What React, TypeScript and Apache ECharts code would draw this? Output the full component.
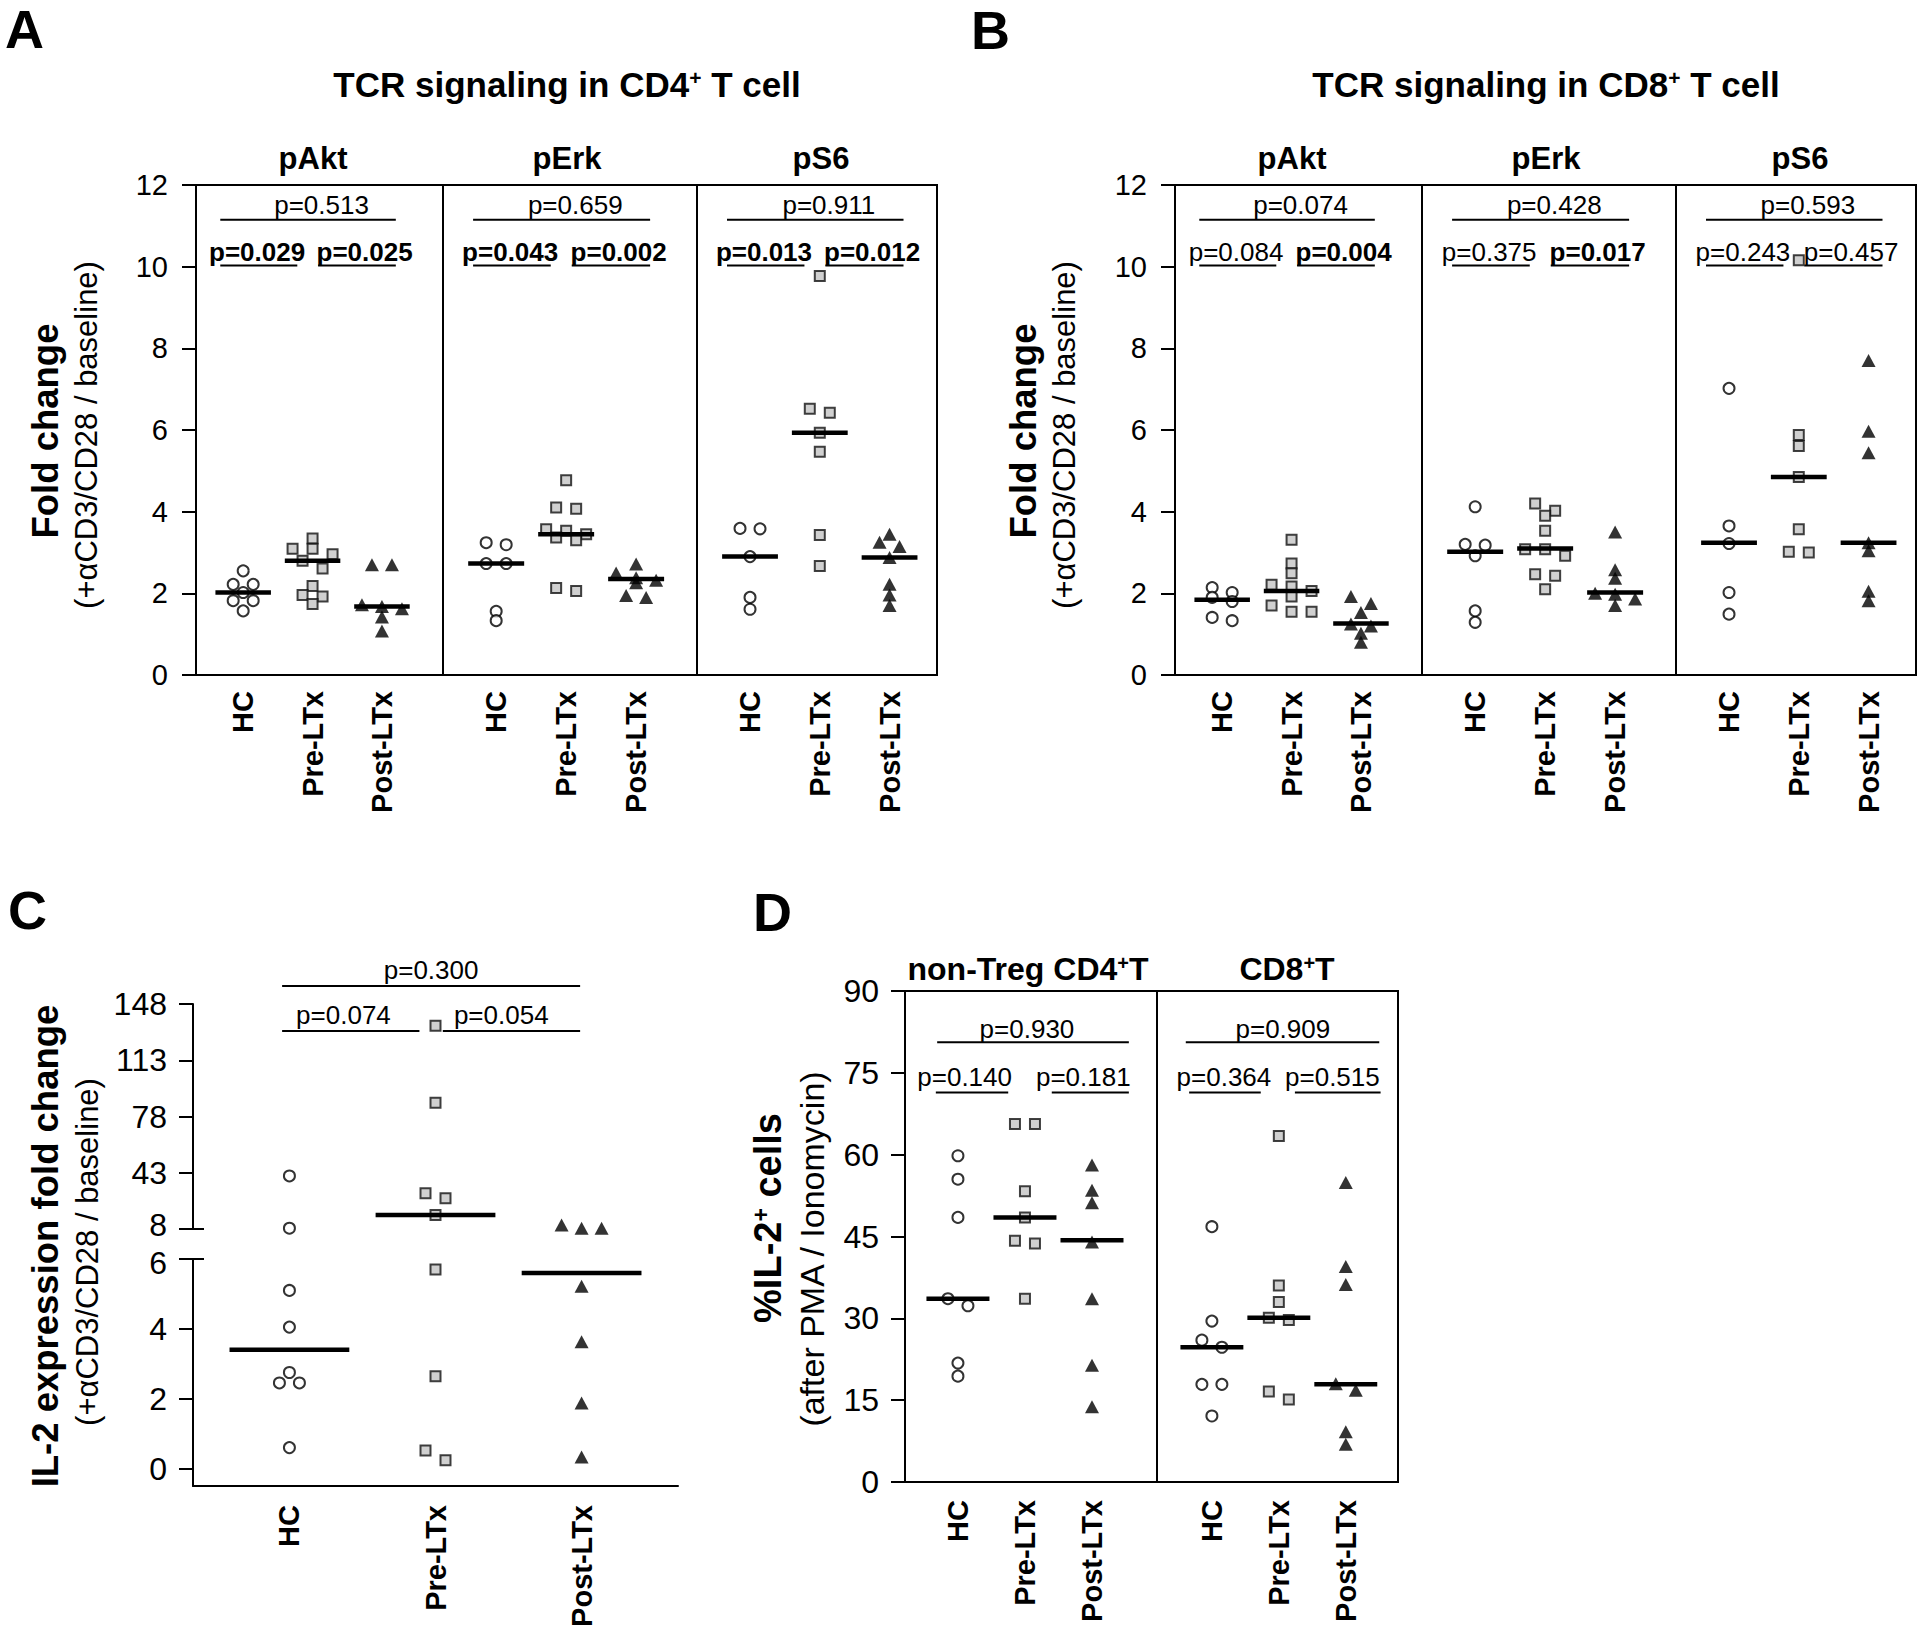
import React, { useEffect, useRef } from 'react';
import * as echarts from 'echarts';

const FONT = '"Liberation Sans", Arial, Helvetica, sans-serif';
const GROUPS = ['HC', 'Pre-LTx', 'Post-LTx'];

// ---------- Panel A: TCR signaling in CD4+ T cell (fold change) ----------
const cd4AktHC = [2.55, 2.22, 2.22, 2.02, 1.82, 1.82, 1.57];
const cd4AktPre = [3.34, 3.09, 3.09, 2.96, 2.8, 2.61, 2.18, 1.96, 1.92, 1.74];
const cd4AktPost = [2.7, 2.7, 1.72, 1.68, 1.62, 1.42, 1.08];
const cd4AktMed = [2.02, 2.8, 1.68];
const cd4AktP = ['p=0.513', 'p=0.029', 'p=0.025'];
const cd4AktBold = [false, true, true];

const cd4ErkHC = [3.24, 3.19, 2.73, 2.73, 1.56, 1.33];
const cd4ErkPre = [4.77, 4.1, 4.07, 3.57, 3.53, 3.45, 3.37, 3.3, 2.13, 2.06];
const cd4ErkPost = [2.72, 2.5, 2.38, 2.32, 2.26, 1.95, 1.9];
const cd4ErkMed = [2.73, 3.45, 2.35];
const cd4ErkP = ['p=0.659', 'p=0.043', 'p=0.002'];
const cd4ErkBold = [false, true, true];

const cd4S6HC = [3.59, 3.58, 2.9, 1.9, 1.61];
const cd4S6Pre = [9.77, 6.52, 6.42, 5.93, 5.47, 3.43, 2.67];
const cd4S6Post = [3.45, 3.25, 3.15, 2.88, 2.22, 1.96, 1.7];
const cd4S6Med = [2.9, 5.93, 2.88];
const cd4S6P = ['p=0.911', 'p=0.013', 'p=0.012'];
const cd4S6Bold = [false, true, true];

// ---------- Panel B: TCR signaling in CD8+ T cell (fold change) ----------
const cd8AktHC = [2.14, 2.02, 1.9, 1.8, 1.41, 1.33];
const cd8AktPre = [3.31, 2.73, 2.49, 2.21, 2.17, 2.06, 1.92, 1.7, 1.55, 1.55];
const cd8AktPost = [1.92, 1.75, 1.53, 1.25, 1.2, 1.02, 0.8];
const cd8AktMed = [1.84, 2.06, 1.26];
const cd8AktP = ['p=0.074', 'p=0.084', 'p=0.004'];
const cd8AktBold = [false, false, true];

const cd8ErkHC = [4.12, 3.2, 3.18, 2.92, 1.57, 1.29];
const cd8ErkPre = [4.2, 4.02, 3.9, 3.53, 3.08, 3.08, 2.92, 2.47, 2.43, 2.1];
const cd8ErkPost = [3.5, 2.58, 2.37, 2.0, 1.98, 1.86, 1.7];
const cd8ErkMed = [3.02, 3.1, 2.02];
const cd8ErkP = ['p=0.428', 'p=0.375', 'p=0.017'];
const cd8ErkBold = [false, false, true];

const cd8S6HC = [7.02, 3.65, 3.22, 2.02, 1.49];
const cd8S6Pre = [10.16, 5.88, 5.61, 4.85, 3.57, 3.02, 3.0];
const cd8S6Post = [7.7, 5.97, 5.44, 3.24, 3.04, 2.05, 1.82];
const cd8S6Med = [3.24, 4.85, 3.24];
const cd8S6P = ['p=0.593', 'p=0.243', 'p=0.457'];
const cd8S6Bold = [false, false, false];

// ---------- Panel C: IL-2 expression fold change ----------
const il2HC = [41, 8.5, 5.1, 4.05, 2.75, 2.45, 2.45, 0.6];
const il2Pre = [134.5, 86.6, 30.2, 27.1, 16.7, 5.7, 2.64, 0.52, 0.24];
const il2Post = [10.5, 8.5, 8.5, 5.22, 3.63, 1.88, 0.33];
const il2Med = [3.4, 16.7, 5.6];
const il2P = ['p=0.300', 'p=0.074', 'p=0.054'];

// ---------- Panel D: %IL-2+ cells ----------
const cd4IL2HC = [59.8, 55.5, 48.5, 33.6, 32.3, 21.8, 19.4];
const cd4IL2Pre = [65.6, 65.6, 53.3, 48.5, 44.2, 43.7, 33.6];
const cd4IL2Post = [58.1, 53.5, 51.2, 44.0, 33.6, 21.4, 13.8];
const cd4IL2Med = [33.6, 48.5, 44.3];
const cd4IL2P = ['p=0.930', 'p=0.140', 'p=0.181'];

const cd8IL2HC = [46.8, 29.5, 26.0, 24.7, 17.9, 17.9, 12.1];
const cd8IL2Pre = [63.4, 36.0, 33.0, 30.1, 29.7, 16.6, 15.1];
const cd8IL2Post = [54.9, 39.5, 36.2, 18.0, 16.8, 9.2, 6.9];
const cd8IL2Med = [24.7, 30.1, 17.9];
const cd8IL2P = ['p=0.909', 'p=0.364', 'p=0.515'];

// tick labels
const foldTicks = [0, 2, 4, 6, 8, 10, 12];
const il2UpperTicks = [8, 43, 78, 113, 148];
const il2LowerTicks = [0, 2, 4, 6];
const pctTicks = [0, 15, 30, 45, 60, 75, 90];

// ---------- layout (styles / positions) ----------
const AB_TOP = 185;
const AB_H = 490;
const AB_SUBS = [
  { dx: 0, width: 247, xMin: -0.68, xMax: 2.88 },
  { dx: 247, width: 254, xMin: -0.76, xMax: 2.87 },
  { dx: 501, width: 240, xMin: -0.76, xMax: 2.68 },
];
const AB_ANN = [
  { x1: -0.33, x2: 2.2, y: 11.15, tx: 1.13, ty: 11.5 },
  { x1: -0.33, x2: 0.78, y: 10.03, tx: 0.2, ty: 10.35 },
  { x1: 1.08, x2: 2.2, y: 10.03, tx: 1.75, ty: 10.35 },
];
const C_ANN = [
  { x1: -0.05, x2: 1.99, y: 159.2, tx: 0.97, ty: 169.2 },
  { x1: -0.05, x2: 0.89, y: 131.2, tx: 0.37, ty: 141.2 },
  { x1: 1.05, x2: 1.99, y: 131.2, tx: 1.45, ty: 141.2 },
];
const D_ANN = [
  [
    { x1: -0.31, x2: 2.55, y: 80.6, tx: 1.03, ty: 83.1 },
    { x1: -0.33, x2: 0.75, y: 71.4, tx: 0.1, ty: 74.3 },
    { x1: 1.4, x2: 2.55, y: 71.4, tx: 1.87, ty: 74.3 },
  ],
  [
    { x1: -0.39, x2: 2.5, y: 80.6, tx: 1.06, ty: 83.1 },
    { x1: -0.34, x2: 0.73, y: 71.4, tx: 0.18, ty: 74.3 },
    { x1: 1.24, x2: 2.52, y: 71.4, tx: 1.8, ty: 74.3 },
  ],
];
const D_SUBS = [
  { left: 905, width: 252, xMin: -0.79, xMax: 2.97 },
  { left: 1157, width: 241, xMin: -0.82, xMax: 2.78 },
];

const MARKERS: any[] = [
  { symbol: 'circle', size: 11, itemStyle: { color: '#ffffff', borderColor: '#000', borderWidth: 2 } },
  { symbol: 'rect', size: 10, itemStyle: { color: '#c4c4c4', borderColor: '#111', borderWidth: 2 } },
  { symbol: 'triangle', size: [14, 13], itemStyle: { color: '#000' } },
];

function swarm(values: number[], pxY: number, tol: number, step: number): number[] {
  const order = values.map((_, i) => i).sort((a, b) => values[b] - values[a]);
  const out = new Array(values.length).fill(0);
  let row: number[] = [];
  const flush = () => {
    row.forEach((k, j) => {
      out[k] = (j - (row.length - 1) / 2) * step;
    });
    row = [];
  };
  for (const i of order) {
    if (row.length && (values[row[0]] - values[i]) * pxY > tol) flush();
    row.push(i);
  }
  flush();
  return out;
}

function buildOption() {
  const option: any = {
    animation: false,
    backgroundColor: '#ffffff',
    grid: [],
    xAxis: [],
    yAxis: [],
    series: [],
    graphic: [],
  };
  const blackLine = { color: '#000', width: 2 };

  function addGrid(cfg: any) {
    const gi = option.grid.length;
    option.grid.push({
      left: cfg.left,
      top: cfg.top,
      width: cfg.width,
      height: cfg.height,
      show: !!cfg.border,
      borderColor: '#000',
      borderWidth: 2,
      backgroundColor: 'transparent',
    });
    option.xAxis.push({
      type: 'value',
      gridIndex: gi,
      min: cfg.xMin,
      max: cfg.xMax,
      show: cfg.xLabels || cfg.xLine,
      axisLine: { show: !!cfg.xLine, onZero: false, lineStyle: blackLine },
      axisTick: { show: false },
      splitLine: { show: false },
      axisLabel: {
        show: !!cfg.xLabels,
        rotate: 90,
        margin: cfg.xMargin,
        customValues: [0, 1, 2],
        formatter: (v: number) => GROUPS[Math.round(v)] || '',
        fontFamily: FONT,
        fontWeight: 'bold',
        fontSize: cfg.xFont,
        color: '#000',
      },
    });
    const labelRich: any = {
      up: { fontSize: cfg.tickFont, fontFamily: FONT, color: '#000', padding: [0, 0, 8, 0] },
      dn: { fontSize: cfg.tickFont, fontFamily: FONT, color: '#000', padding: [8, 0, 0, 0] },
    };
    option.yAxis.push({
      type: 'value',
      gridIndex: gi,
      min: cfg.yMin,
      max: cfg.yMax,
      show: !!cfg.showY,
      axisLine: { show: !!cfg.showY, onZero: false, lineStyle: blackLine },
      axisTick: { show: true, inside: false, length: 14, customValues: cfg.yTicks, lineStyle: blackLine },
      axisLabel: {
        customValues: cfg.yTicks,
        margin: cfg.yMargin,
        fontFamily: FONT,
        fontSize: cfg.tickFont,
        color: '#000',
        rich: labelRich,
        formatter: (v: number) => {
          if (cfg.shiftUp !== undefined && v === cfg.shiftUp) return `{up|${v}}`;
          if (cfg.shiftDown !== undefined && v === cfg.shiftDown) return `{dn|${v}}`;
          return String(v);
        },
      },
      splitLine: { show: false },
    });
    return gi;
  }

  function addPoints(gi: number, cfg: any, g: number, values: number[], tol: number) {
    if (!values.length) return;
    const pxY = cfg.height / (cfg.yMax - cfg.yMin);
    const pxX = cfg.width / (cfg.xMax - cfg.xMin);
    const offs = swarm(values, pxY, tol, 20);
    const m = MARKERS[g];
    option.series.push({
      type: 'scatter',
      xAxisIndex: gi,
      yAxisIndex: gi,
      silent: true,
      z: 3,
      symbol: m.symbol,
      symbolSize: m.size,
      itemStyle: m.itemStyle,
      data: values.map((v, k) => [g + offs[k] / pxX, v]),
    });
  }

  function addMedians(gi: number, meds: number[][], hw: number) {
    if (!meds.length) return;
    option.series.push({
      type: 'custom',
      xAxisIndex: gi,
      yAxisIndex: gi,
      silent: true,
      clip: false,
      z: 5,
      data: meds,
      renderItem: (_p: any, api: any) => {
        const x = api.value(0);
        const y = api.value(1);
        const a = api.coord([x - hw, y]);
        const b = api.coord([x + hw, y]);
        return {
          type: 'line',
          shape: { x1: a[0], y1: a[1], x2: b[0], y2: b[1] },
          style: { stroke: '#000', lineWidth: 4.5 },
        };
      },
    });
  }

  function addAnnotations(gi: number, anns: any[], size: number) {
    option.series.push({
      type: 'custom',
      xAxisIndex: gi,
      yAxisIndex: gi,
      silent: true,
      clip: false,
      z: 6,
      data: anns.map((a) => [a.tx, a.ty]),
      renderItem: (p: any, api: any) => {
        const a = anns[p.dataIndex];
        const s = api.coord([a.x1, a.y]);
        const e = api.coord([a.x2, a.y]);
        const t = api.coord([a.tx, a.ty]);
        return {
          type: 'group',
          children: [
            {
              type: 'line',
              shape: { x1: s[0], y1: s[1], x2: e[0], y2: e[1] },
              style: { stroke: '#000', lineWidth: 2 },
            },
            {
              type: 'text',
              x: t[0],
              y: t[1],
              style: {
                text: a.label,
                fill: '#000',
                font: `${a.bold ? 'bold ' : ''}${size}px ${FONT}`,
                textAlign: 'center',
                align: 'center',
                textVerticalAlign: 'middle',
                verticalAlign: 'middle',
              },
            },
          ],
        };
      },
    });
  }

  function addBreakCap(gi: number, xMin: number, yv: number) {
    option.series.push({
      type: 'custom',
      xAxisIndex: gi,
      yAxisIndex: gi,
      silent: true,
      clip: false,
      z: 6,
      data: [[xMin, yv]],
      renderItem: (_p: any, api: any) => {
        const c = api.coord([api.value(0), api.value(1)]);
        return {
          type: 'line',
          shape: { x1: c[0] - 14, y1: c[1], x2: c[0] + 11, y2: c[1] },
          style: { stroke: '#000', lineWidth: 2 },
        };
      },
    });
  }

  // ----- Panels A and B -----
  const panelA = [
    { groups: [cd4AktHC, cd4AktPre, cd4AktPost], med: cd4AktMed, p: cd4AktP, bold: cd4AktBold },
    { groups: [cd4ErkHC, cd4ErkPre, cd4ErkPost], med: cd4ErkMed, p: cd4ErkP, bold: cd4ErkBold },
    { groups: [cd4S6HC, cd4S6Pre, cd4S6Post], med: cd4S6Med, p: cd4S6P, bold: cd4S6Bold },
  ];
  const panelB = [
    { groups: [cd8AktHC, cd8AktPre, cd8AktPost], med: cd8AktMed, p: cd8AktP, bold: cd8AktBold },
    { groups: [cd8ErkHC, cd8ErkPre, cd8ErkPost], med: cd8ErkMed, p: cd8ErkP, bold: cd8ErkBold },
    { groups: [cd8S6HC, cd8S6Pre, cd8S6Post], med: cd8S6Med, p: cd8S6P, bold: cd8S6Bold },
  ];
  const buildFold = (left: number, subs: any[]) => {
    subs.forEach((sd, si) => {
      const L = AB_SUBS[si];
      const cfg = {
        left: left + L.dx,
        top: AB_TOP,
        width: L.width,
        height: AB_H,
        xMin: L.xMin,
        xMax: L.xMax,
        yMin: 0,
        yMax: 12,
        yTicks: foldTicks,
        showY: si === 0,
        border: true,
        xLabels: true,
        xLine: false,
        tickFont: 29,
        yMargin: 28,
        xFont: 29,
        xMargin: 16,
      };
      const gi = addGrid(cfg);
      sd.groups.forEach((vals: number[], g: number) => addPoints(gi, cfg, g, vals, 8));
      addMedians(gi, sd.med.map((m: number, g: number) => [g, m]), 0.4);
      addAnnotations(
        gi,
        AB_ANN.map((a, k) => ({ ...a, label: sd.p[k], bold: sd.bold[k] })),
        26
      );
    });
  };
  buildFold(196, panelA);
  buildFold(1175, panelB);

  // ----- Panel C (broken axis) -----
  const BREAK = 7;
  const cUp = {
    left: 193, top: 1004, width: 485, height: 225, xMin: -0.66, xMax: 2.66, yMin: 8, yMax: 148,
    yTicks: il2UpperTicks, showY: true, border: false, xLabels: false, xLine: false,
    tickFont: 32, yMargin: 26, xFont: 29, xMargin: 19, shiftUp: 8,
  };
  const cLo = {
    left: 193, top: 1259, width: 485, height: 227, xMin: -0.66, xMax: 2.66, yMin: -0.5, yMax: 6,
    yTicks: il2LowerTicks, showY: true, border: false, xLabels: true, xLine: true,
    tickFont: 32, yMargin: 26, xFont: 29, xMargin: 19, shiftDown: 6,
  };
  const giUp = addGrid(cUp);
  const giLo = addGrid(cLo);
  [il2HC, il2Pre, il2Post].forEach((vals, g) => {
    addPoints(giUp, cUp, g, vals.filter((v) => v >= BREAK), 10);
    addPoints(giLo, cLo, g, vals.filter((v) => v < BREAK), 10);
  });
  addMedians(giUp, il2Med.map((m, g) => [g, m]).filter((d) => d[1] >= BREAK), 0.41);
  addMedians(giLo, il2Med.map((m, g) => [g, m]).filter((d) => d[1] < BREAK), 0.41);
  addAnnotations(giUp, C_ANN.map((a, k) => ({ ...a, label: il2P[k], bold: false })), 26);
  addBreakCap(giUp, cUp.xMin, 8);
  addBreakCap(giLo, cLo.xMin, 6);

  // ----- Panel D -----
  const panelD = [
    { groups: [cd4IL2HC, cd4IL2Pre, cd4IL2Post], med: cd4IL2Med, p: cd4IL2P },
    { groups: [cd8IL2HC, cd8IL2Pre, cd8IL2Post], med: cd8IL2Med, p: cd8IL2P },
  ];
  panelD.forEach((sd, si) => {
    const L = D_SUBS[si];
    const cfg = {
      left: L.left, top: 991, width: L.width, height: 491, xMin: L.xMin, xMax: L.xMax, yMin: 0, yMax: 90,
      yTicks: pctTicks, showY: si === 0, border: true, xLabels: true, xLine: false,
      tickFont: 32, yMargin: 26, xFont: 29, xMargin: 18,
    };
    const gi = addGrid(cfg);
    sd.groups.forEach((vals, g) => addPoints(gi, cfg, g, vals, 8.5));
    addMedians(gi, sd.med.map((m, g) => [g, m]), 0.47);
    addAnnotations(gi, D_ANN[si].map((a, k) => ({ ...a, label: sd.p[k], bold: false })), 26);
  });

  // ----- texts -----
  const txt = (x: number, y: number, text: string, size: number, bold: boolean, rot = 0, align = 'center') => ({
    type: 'text',
    x,
    y,
    rotation: rot,
    silent: true,
    style: {
      text,
      font: `${bold ? 'bold ' : ''}${size}px ${FONT}`,
      fill: '#000',
      textAlign: align,
      align,
      textVerticalAlign: 'middle',
      verticalAlign: 'middle',
    },
  });
  const sup = (x: number, y: number, a: string, b: string, size: number, supSize: number, rot = 0) => ({
    type: 'text',
    x,
    y,
    rotation: rot,
    silent: true,
    style: {
      text: `{b|${a}}{s|+}{b|${b}}`,
      rich: {
        b: { fontSize: size, fontWeight: 'bold', fontFamily: FONT, fill: '#000', color: '#000' },
        s: { fontSize: supSize, fontWeight: 'bold', fontFamily: FONT, fill: '#000', color: '#000', verticalAlign: 'top' },
      },
      textAlign: 'center',
      align: 'center',
      textVerticalAlign: 'middle',
      verticalAlign: 'middle',
    },
  });
  const R = Math.PI / 2;
  option.graphic = [
    txt(5, 29, 'A', 54, true, 0, 'left'),
    txt(971, 30, 'B', 54, true, 0, 'left'),
    txt(8, 910, 'C', 54, true, 0, 'left'),
    txt(753, 912, 'D', 54, true, 0, 'left'),
    sup(567, 84, 'TCR signaling in CD4', ' T cell', 35, 21),
    sup(1546, 84, 'TCR signaling in CD8', ' T cell', 35, 21),
    txt(313, 158, 'pAkt', 31, true),
    txt(567, 158, 'pErk', 31, true),
    txt(821, 158, 'pS6', 31, true),
    txt(1292, 158, 'pAkt', 31, true),
    txt(1546, 158, 'pErk', 31, true),
    txt(1800, 158, 'pS6', 31, true),
    txt(45, 431, 'Fold change', 36.5, true, R),
    txt(86, 435, '(+αCD3/CD28 / baseline)', 31, false, R),
    txt(1023, 431, 'Fold change', 36.5, true, R),
    txt(1064, 435, '(+αCD3/CD28 / baseline)', 31, false, R),
    txt(45, 1246, 'IL-2 expression fold change', 36.5, true, R),
    txt(87, 1252, '(+αCD3/CD28 / baseline)', 31, false, R),
    sup(768, 1218, '%IL-2', ' cells', 38, 23, R),
    txt(812, 1249, '(after PMA / Ionomycin)', 34, false, R),
    sup(1028, 969, 'non-Treg CD4', 'T', 32, 20),
    sup(1287, 969, 'CD8', 'T', 32, 20),
  ];
  return option;
}

export default function App() {
  const ref = useRef<HTMLDivElement>(null);
  useEffect(() => {
    document.body.style.margin = '0';
    const chart = echarts.init(ref.current as HTMLDivElement, null, { renderer: 'svg' });
    chart.setOption(buildOption());
    return () => chart.dispose();
  }, []);
  return (
    <div
      ref={ref}
      style={{ position: 'absolute', left: 0, top: 0, width: 1920, height: 1638, background: '#fff' }}
    />
  );
}
